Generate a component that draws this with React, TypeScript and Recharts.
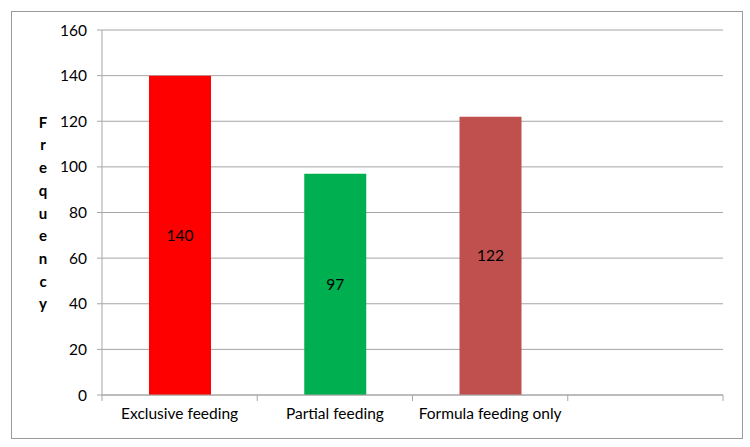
import React from 'react';
import { BarChart, Bar, XAxis, YAxis, CartesianGrid, Cell, LabelList, Label } from 'recharts';

const categories = ['Exclusive feeding', 'Partial feeding', 'Formula feeding only', ''];
const frequencies: (number | null)[] = [140, 97, 122, null];
const barColors = ['#FF0000', '#00B050', '#C0504D', '#C0504D'];
const yTicks = [0, 20, 40, 60, 80, 100, 120, 140, 160];
const yTitle = 'Frequency';

const data = categories.map((name, i) => ({ name, value: frequencies[i] }));

const FONT = 'Lato, "Liberation Sans", sans-serif';
const GRID = '#a6a6a6';
const CHART_W = 750;
const MARGIN = { top: 30, right: 27, left: 60, bottom: 22 };
const Y_W = 42;
const BAND = (CHART_W - MARGIN.left - MARGIN.right - Y_W) / categories.length;

const StackedTitle = (props: any) => {
  const vb = props.viewBox || {};
  const cy = vb.y + vb.height / 2;
  const step = 22.7;
  const letters = yTitle.split('');
  const start = cy - ((letters.length - 1) * step) / 2;
  return (
    <g>
      {letters.map((ch, i) => (
        <text
          key={i}
          x={43}
          y={start + i * step}
          textAnchor="middle"
          dominantBaseline="central"
          fontFamily={FONT}
          fontWeight="bold"
          fontSize={15}
          fill="#000"
        >
          {ch}
        </text>
      ))}
    </g>
  );
};

// category label plus tick marks on the band edges
const CategoryTick = (props: any) => {
  const { x, y, payload, index } = props;
  const axisY = y - 13;
  const left = x - BAND / 2;
  const right = x + BAND / 2;
  return (
    <g>
      <line x1={left} x2={left} y1={axisY} y2={axisY + 6} stroke={GRID} />
      {index === categories.length - 1 && (
        <line x1={right} x2={right} y1={axisY} y2={axisY + 6} stroke={GRID} />
      )}
      <text x={x} y={y} dy="0.71em" textAnchor="middle" fill="#000" fontSize={15.5} fontFamily={FONT}>
        {payload.value}
      </text>
    </g>
  );
};

const App: React.FC = () => {
  return (
    <div style={{ position: 'absolute', left: 0, top: 0, width: 750, height: 447, background: '#fff' }}>
      <div
        style={{
          position: 'absolute',
          left: 11,
          top: 11,
          width: 730,
          height: 426,
          border: '1px solid #9a9a9a',
        }}
      />
      <BarChart
        width={CHART_W}
        height={447}
        data={data}
        margin={MARGIN}
        style={{ position: 'absolute', left: 0, top: 0, fontFamily: FONT }}
      >
        <CartesianGrid vertical={false} stroke={GRID} strokeWidth={1} />
        <XAxis
          dataKey="name"
          height={30}
          axisLine={{ stroke: GRID }}
          tickLine={false}
          tickSize={0}
          tickMargin={13}
          interval={0}
          tick={<CategoryTick />}
        />
        <YAxis
          width={Y_W}
          domain={[0, 160]}
          ticks={yTicks}
          interval={0}
          axisLine={{ stroke: GRID }}
          tickLine={{ stroke: GRID }}
          tickSize={5}
          tickMargin={10}
          tick={{ fill: '#000', fontSize: 15.5, fontFamily: FONT }}
        >
          <Label content={<StackedTitle />} />
        </YAxis>
        <Bar dataKey="value" barSize={62} isAnimationActive={false}>
          {data.map((d, i) => (
            <Cell key={d.name + i} fill={barColors[i]} />
          ))}
          <LabelList dataKey="value" position="center" fill="#000" fontSize={15.5} fontFamily={FONT} />
        </Bar>
      </BarChart>
    </div>
  );
};

export default App;
